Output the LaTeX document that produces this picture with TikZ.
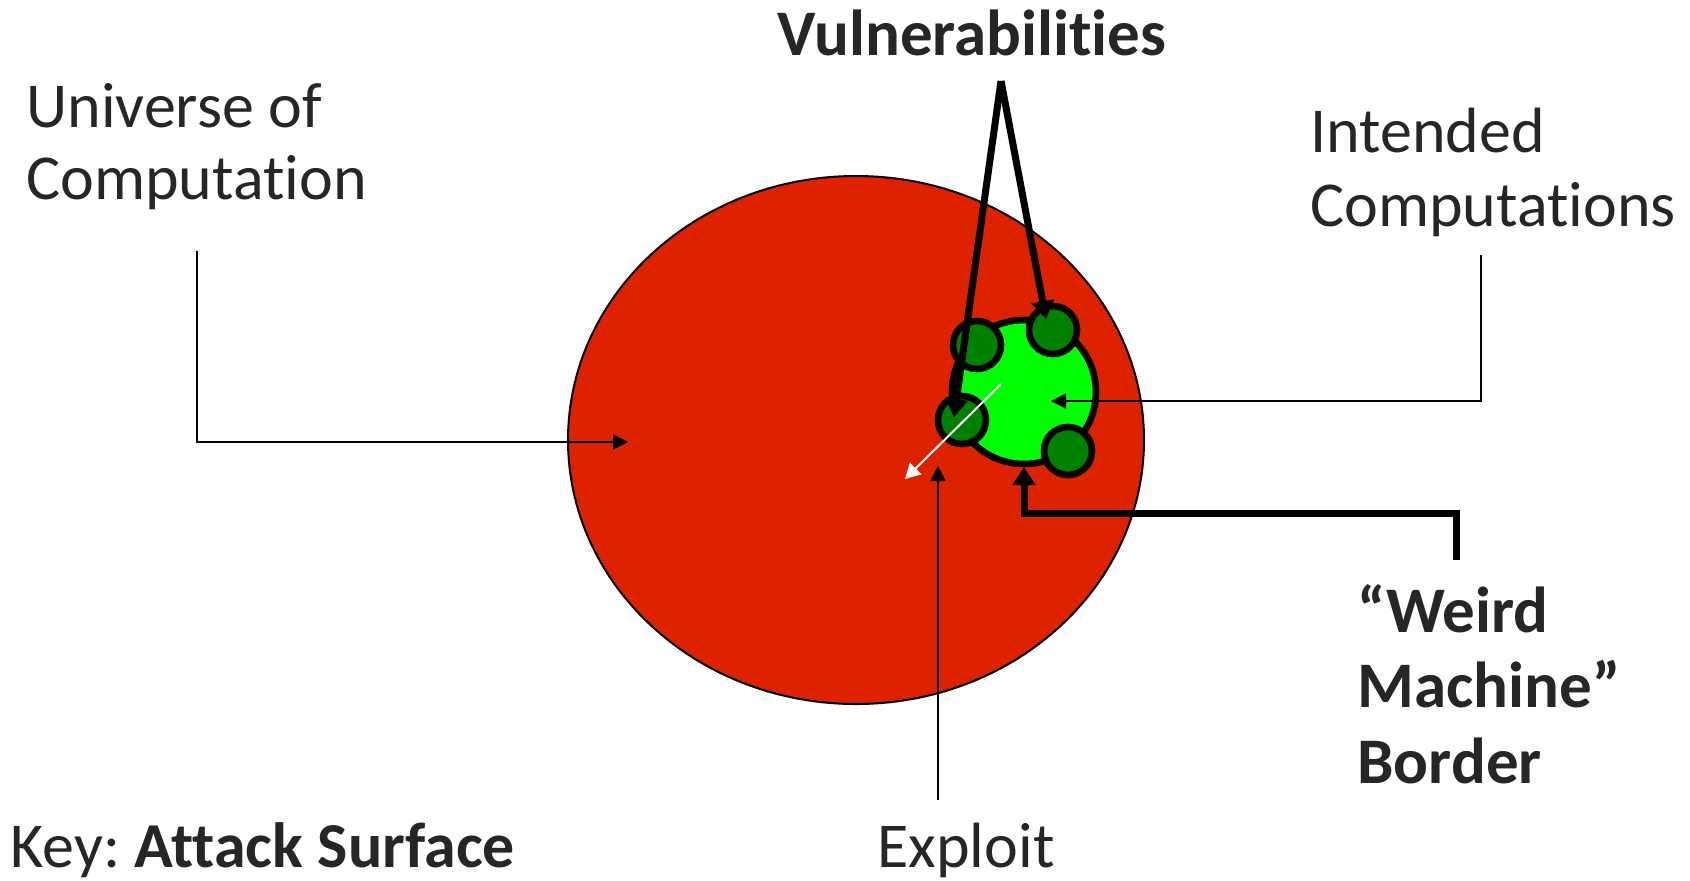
\documentclass[tikz,border=0pt]{standalone}
\usepackage{fontspec}
\setmainfont{Carlito}[Ligatures=NoCommon]
\usetikzlibrary{shapes.geometric,arrows.meta}
\definecolor{txt}{HTML}{262626}
\definecolor{redfill}{HTML}{DD2200}
\definecolor{lightg}{HTML}{00FF00}
\definecolor{darkg}{HTML}{008000}
\tikzset{
  lbl/.style={inner sep=0pt, text=txt, font=\fontsize{32}{37}\selectfont},
  blbl/.style={lbl, font=\fontsize{32.5}{37}\selectfont\bfseries},
  thinarrow/.style={draw=black, line width=1pt, -{Triangle[length=7.5pt,width=7.5pt]}},
  thickarrow/.style={draw=black, line width=3.5pt, -{Triangle[length=9pt,width=11pt]}},
  whitearrow/.style={draw=white, line width=1pt, -{Triangle[length=7.5pt,width=8pt]}},
  vulnspot/.style={circle, draw=black, line width=3.3pt, fill=darkg, minimum size=24pt, inner sep=0pt},
}
\begin{document}
\begin{tikzpicture}[x=0.5pt, y=-0.5pt]
\fill[white] (0,0) rectangle (1690,880);
\useasboundingbox (0,0) rectangle (1690,880);

% universe ellipse
\node[ellipse, draw=black, line width=1pt, fill=redfill, minimum width=288pt, minimum height=264pt, inner sep=0pt] (univ) at (856,440) {};

% intended computations blob
\node[circle, draw=black, line width=3.3pt, fill=lightg, minimum size=72pt, inner sep=0pt] (intended) at (1024,392) {};
\node[vulnspot] (v1) at (977,345) {};
\node[vulnspot] (v2) at (1053,330) {};
\node[vulnspot] (v3) at (962,420) {};
\node[vulnspot] (v4) at (1068,451) {};

% labels
\node[blbl, anchor=base] (vuln) at (972,55) {Vulnerabilities};
\node[lbl, anchor=base west] (uni1) at (26,127) {Universe of};
\node[lbl, anchor=base west] (uni2) at (26,199) {Computation};
\node[lbl, anchor=base west] (int1) at (1310,152) {Intended};
\node[lbl, anchor=base west] (int2) at (1310,226) {Computations};
\node[blbl, anchor=base west] (wm1) at (1357,632) {“Weird};
\node[blbl, anchor=base west] (wm2) at (1357,707) {Machine”};
\node[blbl, anchor=base west] (wm3) at (1357,783) {Border};
\node[lbl, anchor=base] (exploit) at (966,867) {Exploit};
\node[lbl, anchor=base west] (key) at (10,867) {Key:~\textbf{Attack Surface}};

% coordinates
\coordinate (uniStart) at (197,251);
\coordinate (uniEnd) at (628,442);
\coordinate (intStart) at (1481,255);
\coordinate (intEnd) at (1051,401);
\coordinate (expStart) at (938,800);
\coordinate (expEnd) at (938,466);
\coordinate (wmStart) at (1456,560);
\coordinate (wmEnd) at (1024,467);
\coordinate (apex) at (1001,81);
\coordinate (vTipL) at (954,417);
\coordinate (vTipR) at (1046,319);
\coordinate (whStart) at (1001,384);
\coordinate (whEnd) at (905,479);

% connectors
\draw[thinarrow] (uniStart) |- (uniEnd);
\draw[thinarrow] (intStart) |- (intEnd);
\draw[thinarrow] (expStart) -- (expEnd);
\draw[thickarrow] (wmStart) -- (1456,513) -| (wmEnd);
\draw[thickarrow] (apex) -- (vTipL);
\draw[thickarrow] (apex) -- (vTipR);
\draw[whitearrow] (whStart) -- (whEnd);
\end{tikzpicture}
\end{document}
